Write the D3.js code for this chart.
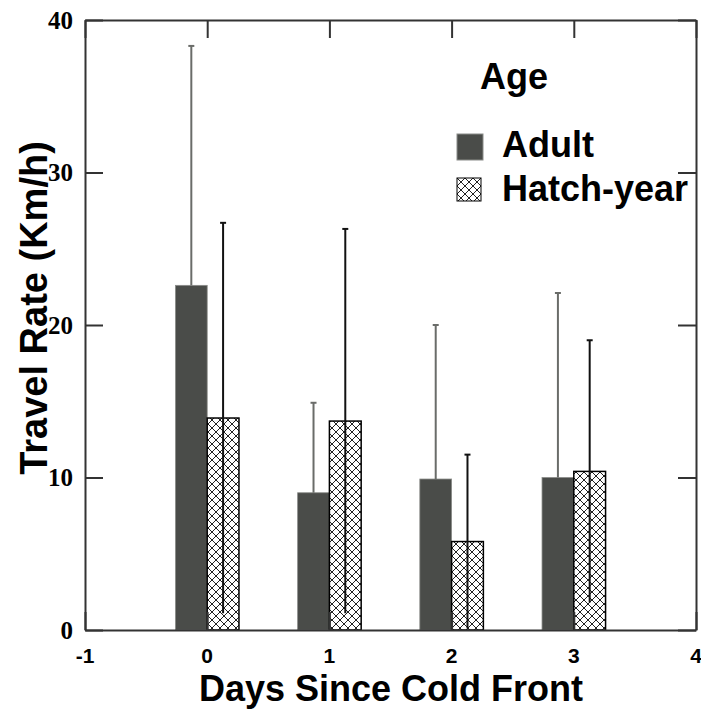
<!DOCTYPE html>
<html>
<head>
  <meta charset="UTF-8">
  <title>Travel Rate by Age</title>
  <style>
    body { margin: 0; background: #fff; }
    svg text { font-family: "Liberation Sans", Arial, sans-serif; font-weight: bold; fill: #000; }
  </style>
</head>
<body>
  <svg id="chart" width="701" height="711"></svg>

  <script src="https://d3js.org/d3.v7.min.js"></script>
  <script>
    // values
    var days = [0, 1, 2, 3];
    var adultMean = [22.6, 9.0, 9.9, 10.0];
    var adultSD = [15.7, 5.9, 10.1, 12.1];
    var hatchMean = [13.9, 13.7, 5.8, 10.4];
    var hatchSD = [12.8, 12.6, 5.7, 8.6];
    var xTicks = [-1, 0, 1, 2, 3, 4];
    var yTicks = [0, 10, 20, 30, 40];
    var groups = ["Adult", "Hatch-year"];

    var svg = d3.select("#chart"),
      margin = {top: 20, right: 5, bottom: 81, left: 85},
      width = +svg.attr("width") - margin.left - margin.right,
      height = +svg.attr("height") - margin.top - margin.bottom;

    var x = d3.scaleLinear().domain([-1, 4]).range([margin.left, margin.left + width]);
    var y = d3.scaleLinear().domain([0, 40]).range([margin.top + height, margin.top]);

    var barW = 0.26; // in day units

    // cross hatch pattern
    var defs = svg.append("defs");
    var pat = defs.append("pattern")
      .attr("id", "hatch")
      .attr("patternUnits", "userSpaceOnUse")
      .attr("width", 8).attr("height", 8);
    pat.append("rect").attr("width", 8).attr("height", 8).attr("fill", "#fff");
    pat.append("path")
      .attr("d", "M0,0 L8,8 M8,0 L0,8 M-1,7 L1,9 M7,-1 L9,1 M-1,1 L1,-1 M7,9 L9,7")
      .attr("stroke", "#222").attr("stroke-width", 1);

    var data = days.map(function(d, i) {
      return {day: d, adult: adultMean[i], adultSD: adultSD[i], hatch: hatchMean[i], hatchSD: hatchSD[i]};
    });

    // adult bars
    svg.selectAll(".adult")
      .data(data)
      .enter().append("rect")
        .attr("class", "adult")
        .attr("x", function(d) { return x(d.day - barW); })
        .attr("y", function(d) { return y(d.adult); })
        .attr("width", function(d) { return x(d.day) - x(d.day - barW); })
        .attr("height", function(d) { return y(0) - y(d.adult); })
        .attr("fill", "#4a4c49")
        .attr("stroke", "#8a8c89")
        .attr("stroke-width", 0.8);

    // hatch-year bars
    svg.selectAll(".hatchbar")
      .data(data)
      .enter().append("rect")
        .attr("class", "hatchbar")
        .attr("x", function(d) { return x(d.day); })
        .attr("y", function(d) { return y(d.hatch); })
        .attr("width", function(d) { return x(d.day + barW) - x(d.day); })
        .attr("height", function(d) { return y(0) - y(d.hatch); })
        .attr("fill", "url(#hatch)")
        .attr("stroke", "#000")
        .attr("stroke-width", 1.5);

    // error bars (adult ones start at the bar top, hatch ones run through the bar)
    function errorBars(cls, key, sdKey, offset, color, fromTop) {
      var g = svg.selectAll("." + cls)
        .data(data)
        .enter().append("g")
          .attr("class", cls);
      g.append("line")
        .attr("x1", function(d) { return x(d.day + offset); })
        .attr("x2", function(d) { return x(d.day + offset); })
        .attr("y1", function(d) { return fromTop ? y(d[key]) : y(Math.max(0, d[key] - d[sdKey])); })
        .attr("y2", function(d) { return y(d[key] + d[sdKey]); })
        .attr("stroke", color).attr("stroke-width", 2);
      g.append("line")
        .attr("x1", function(d) { return x(d.day + offset) - 3; })
        .attr("x2", function(d) { return x(d.day + offset) + 3; })
        .attr("y1", function(d) { return y(d[key] + d[sdKey]); })
        .attr("y2", function(d) { return y(d[key] + d[sdKey]); })
        .attr("stroke", color).attr("stroke-width", 2);
    }
    errorBars("errA", "adult", "adultSD", -barW / 2, "#6a6c69", true);
    errorBars("errH", "hatch", "hatchSD", barW / 2, "#111", false);

    // frame with inward ticks on all four sides
    var tickLen = 18;
    function styleAxis(g) { g.selectAll("line, path").attr("stroke", "#333").attr("stroke-width", 2); }
    svg.append("g")
      .attr("transform", "translate(0," + y(0) + ")")
      .call(d3.axisBottom(x).tickValues(xTicks).tickSizeInner(-tickLen).tickSizeOuter(0).tickFormat(""))
      .call(styleAxis);
    svg.append("g")
      .attr("transform", "translate(0," + y(40) + ")")
      .call(d3.axisTop(x).tickValues(xTicks).tickSizeInner(-tickLen).tickSizeOuter(0).tickFormat(""))
      .call(styleAxis);
    svg.append("g")
      .attr("transform", "translate(" + x(-1) + ",0)")
      .call(d3.axisLeft(y).tickValues(yTicks).tickSizeInner(-tickLen).tickSizeOuter(0).tickFormat(""))
      .call(styleAxis);
    svg.append("g")
      .attr("transform", "translate(" + x(4) + ",0)")
      .call(d3.axisRight(y).tickValues(yTicks).tickSizeInner(-tickLen).tickSizeOuter(0).tickFormat(""))
      .call(styleAxis);

    // tick labels
    svg.selectAll(".ylab")
      .data(yTicks)
      .enter().append("text")
        .attr("class", "ylab")
        .attr("x", x(-1) - 12)
        .attr("y", function(d) { return y(d); })
        .attr("dy", "0.35em")
        .attr("text-anchor", "end")
        .style("font-family", "'Liberation Serif', 'Times New Roman', serif")
        .style("font-size", "25px")
        .text(function(d) { return d; });

    svg.selectAll(".xlab")
      .data(xTicks)
      .enter().append("text")
        .attr("class", "xlab")
        .attr("x", function(d) { return x(d); })
        .attr("y", 663)
        .attr("text-anchor", "middle")
        .style("font-size", "21px")
        .text(function(d) { return d; });

    // axis titles
    svg.append("text")
      .attr("x", 391)
      .attr("y", 701)
      .attr("text-anchor", "middle")
      .style("font-size", "36px")
      .text("Days Since Cold Front");

    svg.append("text")
      .attr("transform", "translate(47," + 308 + ") rotate(-90)")
      .attr("text-anchor", "middle")
      .style("font-size", "38px")
      .text("Travel Rate (Km/h)");

    // legend
    svg.append("text")
      .attr("x", 480).attr("y", 89)
      .style("font-size", "36px")
      .text("Age");

    var legend = svg.selectAll(".legend")
      .data(groups)
      .enter().append("g")
        .attr("class", "legend")
        .attr("transform", function(d, i) { return "translate(457," + (134 + i * 44) + ")"; });

    legend.append("rect")
      .attr("width", function(d, i) { return i == 0 ? 26 : 24; })
      .attr("height", function(d, i) { return i == 0 ? 26 : 23; })
      .attr("fill", function(d, i) { return i == 0 ? "#4a4c49" : "url(#hatch)"; })
      .attr("stroke", function(d, i) { return i == 0 ? "#8a8c89" : "#000"; })
      .attr("stroke-width", 1);

    legend.append("text")
      .attr("x", 45)
      .attr("y", 23)
      .style("font-size", "36px")
      .text(function(d) { return d; });
  </script>
</body>
</html>
